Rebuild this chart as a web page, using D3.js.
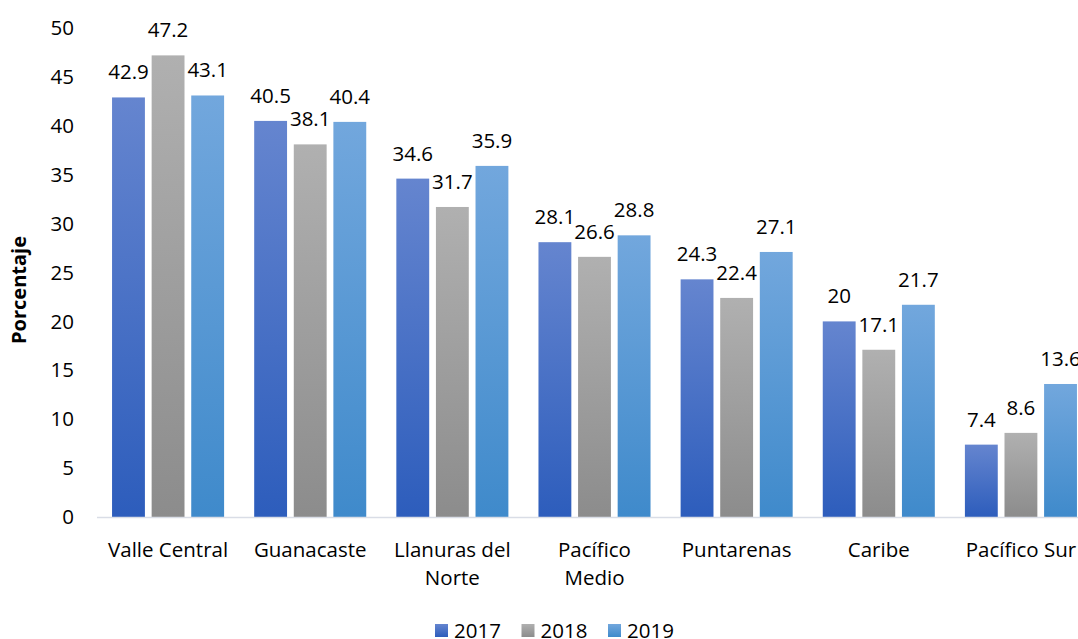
<!DOCTYPE html>
<html>
<head>
<meta charset="utf-8">
<style>
  body { margin: 0; background: #fff; }
  svg text { font-family: "Open Sans", sans-serif; fill: #000; }
</style>
</head>
<body>
<svg id="chart" width="1078" height="639"></svg>
<script src="https://cdn.jsdelivr.net/npm/d3@7"></script>
<script>
// datos
var regiones = ["Valle Central", "Guanacaste", "Llanuras del Norte", "Pacífico Medio", "Puntarenas", "Caribe", "Pacífico Sur"];
var etiquetas = [["Valle Central"], ["Guanacaste"], ["Llanuras del", "Norte"], ["Pacífico", "Medio"], ["Puntarenas"], ["Caribe"], ["Pacífico Sur"]];
var anios = ["2017", "2018", "2019"];
var v2017 = [42.9, 40.5, 34.6, 28.1, 24.3, 20, 7.4];
var v2018 = [47.2, 38.1, 31.7, 26.6, 22.4, 17.1, 8.6];
var v2019 = [43.1, 40.4, 35.9, 28.8, 27.1, 21.7, 13.6];
var ticks = [0, 5, 10, 15, 20, 25, 30, 35, 40, 45, 50];

var series = [v2017, v2018, v2019];
var colores = [
  {top: "#6585cf", bot: "#2d5dbc"},
  {top: "#b0b0b0", bot: "#8c8c8c"},
  {top: "#72a7dd", bot: "#3f8acb"}
];

var svg = d3.select("#chart");
var defs = svg.append("defs");
colores.forEach(function(c, i) {
  var g = defs.append("linearGradient").attr("id", "grad" + i)
    .attr("x1", 0).attr("y1", 0).attr("x2", 0).attr("y2", 1);
  g.append("stop").attr("offset", "0%").attr("stop-color", c.top);
  g.append("stop").attr("offset", "100%").attr("stop-color", c.bot);
});

var mLeft = 97, mRight = 1092, mTop = 28, mBottom = 517;
var fs = "20.5px";

var x = d3.scaleBand().domain(regiones).range([mLeft, mRight]);
var y = d3.scaleLinear().domain([0, 50]).range([mBottom, mTop]);
var xs = d3.scaleBand().domain(anios).range([0, x.bandwidth()]).paddingInner(0.17).paddingOuter(0.38);

// eje y
svg.append("g").selectAll("text").data(ticks).enter().append("text")
  .attr("x", 74).attr("y", function(d) { return y(d); })
  .attr("dy", "0.35em").attr("text-anchor", "end")
  .style("font-size", fs)
  .text(function(d) { return d; });

svg.append("text")
  .attr("transform", "translate(26,290) rotate(-90)")
  .attr("text-anchor", "middle")
  .style("font-size", "20px").style("font-weight", "bold")
  .text("Porcentaje");

// barras
series.forEach(function(vals, i) {
  var g = svg.append("g");
  g.selectAll("rect").data(vals).enter().append("rect")
    .attr("x", function(d, j) { return x(regiones[j]) + xs(anios[i]); })
    .attr("y", function(d) { return y(d); })
    .attr("width", xs.bandwidth())
    .attr("height", function(d) { return mBottom - y(d); })
    .attr("fill", "url(#grad" + i + ")");
  g.selectAll("text").data(vals).enter().append("text")
    .attr("x", function(d, j) { return x(regiones[j]) + xs(anios[i]) + xs.bandwidth() / 2; })
    .attr("y", function(d) { return y(d) - 18; })
    .attr("text-anchor", "middle")
    .style("font-size", fs)
    .text(function(d) { return d; });
});

// linea base
svg.append("line")
  .attr("x1", mLeft).attr("x2", mRight)
  .attr("y1", mBottom + 0.5).attr("y2", mBottom + 0.5)
  .attr("stroke", "#d9dde6").attr("stroke-width", 1.5);

// etiquetas categoria
var cat = svg.append("g").selectAll("text").data(etiquetas).enter().append("text")
  .attr("x", function(d, j) { return x(regiones[j]) + x.bandwidth() / 2; })
  .attr("y", 557)
  .attr("text-anchor", "middle")
  .style("font-size", fs);
cat.selectAll("tspan").data(function(d) { return d; }).enter().append("tspan")
  .attr("x", function() { return d3.select(this.parentNode).attr("x"); })
  .attr("dy", function(d, k) { return k === 0 ? 0 : 27.5; })
  .text(function(d) { return d; });

// leyenda
var leg = svg.append("g").selectAll("g").data(anios).enter().append("g")
  .attr("transform", function(d, i) { return "translate(" + (435 + i * 86.5) + ",624)"; });
leg.append("rect").attr("width", 13).attr("height", 13)
  .attr("fill", function(d, i) { return "url(#grad" + i + ")"; });
leg.append("text").attr("x", 19).attr("y", 13.5)
  .style("font-size", fs)
  .text(function(d) { return d; });
</script>
</body>
</html>
